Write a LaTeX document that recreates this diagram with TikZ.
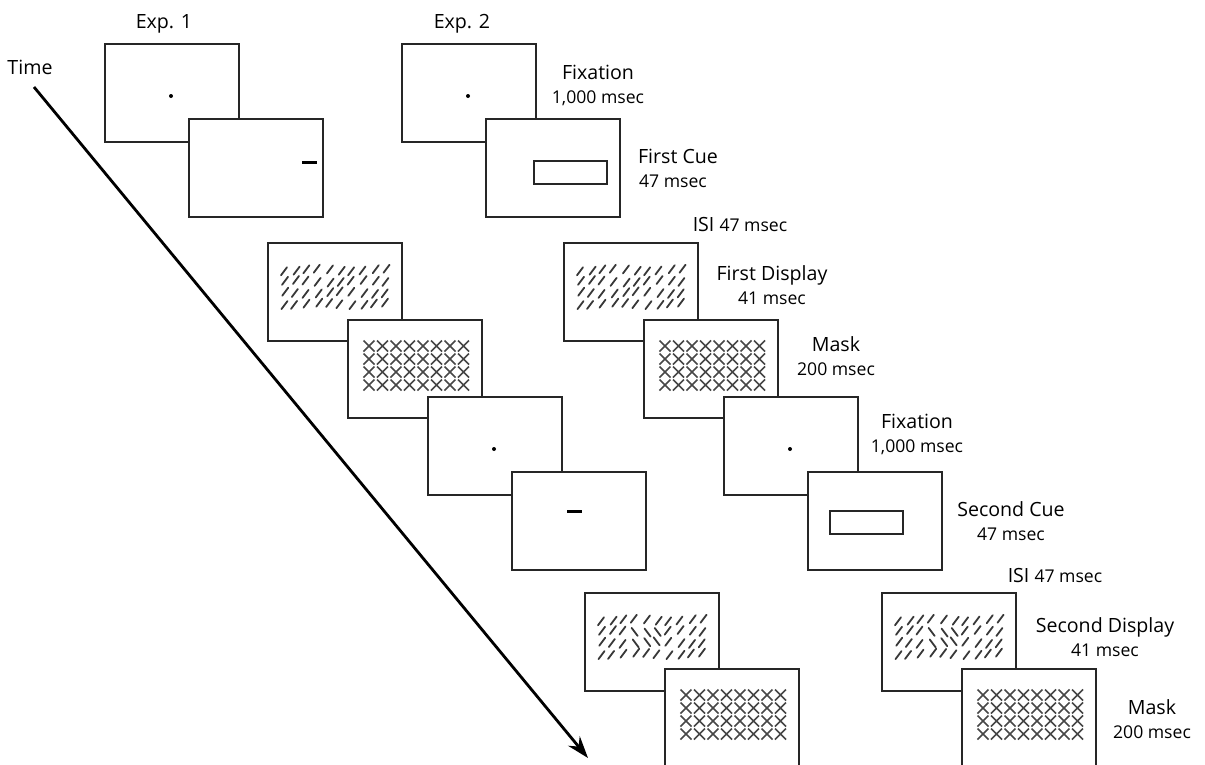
\documentclass[tikz,border=0pt]{standalone}
\usepackage{fontspec}
\setmainfont{Open Sans}
\usetikzlibrary{arrows.meta,positioning}

\newcommand{\stagefont}{\fontsize{19.6}{22}\selectfont}
\newcommand{\durfont}{\fontsize{17.6}{20}\selectfont}

\tikzset{
	pics/linegrid/.style={code={
		\foreach \j in {0,...,3}
		\foreach \i in {0,...,9}{
			\pgfmathsetmacro{\px}{-51+11.33*\i+1.3*sin(97*\i+53*\j)}
			\pgfmathsetmacro{\py}{-22+11.3*\j+1.3*cos(61*\i+113*\j)}
			\pgfmathsetmacro{\dy}{(#1==1 && \j>0 && \j<3 && \i>2 && \i<6) ? -4 : 4}
			\draw[texline] (\px-3,\py+\dy) -- (\px+3,\py-\dy);
		}
	}},
	pics/xgrid/.style={code={
		\foreach \j in {0,...,3}
		\foreach \i in {0,...,7}{
			\pgfmathsetmacro{\px}{-46+13.5*\i}
			\pgfmathsetmacro{\py}{-23+13*\j}
			\draw[maskx] (\px-5.5,\py-5.5) -- (\px+5.5,\py+5.5) (\px-5.5,\py+5.5) -- (\px+5.5,\py-5.5);
		}
	}}
}

\begin{document}
\begin{tikzpicture}[x=1pt,y=-1pt,
	screen/.style={rectangle,draw=black!85,line width=2pt,fill=white,minimum width=134pt,minimum height=98pt,inner sep=0pt,outer sep=0pt},
	stage/.style={font=\stagefont,inner sep=0pt,anchor=base},
	dur/.style={font=\durfont,inner sep=0pt,anchor=base},
	fixdot/.style={circle,fill=black,inner sep=0pt,minimum size=4pt},
	cuebar/.style={rectangle,fill=black,inner sep=0pt,minimum width=15pt,minimum height=3pt},
	cuebox/.style={rectangle,draw=black!85,line width=2pt,inner sep=0pt,minimum width=73pt,minimum height=23pt},
	texline/.style={draw=black!78,line width=1.8pt,line cap=round},
	maskx/.style={draw=black!72,line width=1.6pt},
	timeline/.style={-{Stealth[length=22pt,width=15pt]},line width=2.8pt}
	]
\useasboundingbox (0,0) rectangle (1205,764);

% headings
\node [stage] (exp1) at (164,28) {Exp. 1};
\node [stage] (exp2) at (462,28) {Exp. 2};
\node [stage] (time) at (30,74)  {Time};

% Exp. 1 : fixation and cue
\node [screen] (a1) at (172,93) {};
\node [fixdot] (a1dot) at ([shift={(-1,3)}]a1.center) {};
\node [screen] (a2) [below right=-23pt and -50pt of a1] {};
\node [cuebar] (a2cue) at ([shift={(53,-6)}]a2.center) {};

% Exp. 2 : fixation and cue
\node [screen] (b1) at (469,93) {};
\node [fixdot] (b1dot) at ([shift={(-1,3)}]b1.center) {};
\node [screen] (b2) [below right=-23pt and -50pt of b1] {};
\node [cuebox] (b2cue) at ([shift={(17,4)}]b2.center) {};

% Exp. 1 : first display, mask, fixation, second cue
\node [screen] (c1) at (335,292) {};
\pic at (c1.center) {linegrid=0};
\node [screen] (c2) [below right=-21pt and -54pt of c1] {};
\pic at (c2.center) {xgrid};
\node [screen] (c3) [below right=-21pt and -54pt of c2] {};
\node [fixdot] (c3dot) at ([shift={(-1,3)}]c3.center) {};
\node [screen] (c4) [below right=-23pt and -50pt of c3] {};
\node [cuebar] (c4cue) at ([shift={(-5,-10)}]c4.center) {};

% Exp. 2 : first display, mask, fixation, second cue
\node [screen] (d1) at (631,292) {};
\pic at (d1.center) {linegrid=0};
\node [screen] (d2) [below right=-21pt and -54pt of d1] {};
\pic at (d2.center) {xgrid};
\node [screen] (d3) [below right=-21pt and -54pt of d2] {};
\node [fixdot] (d3dot) at ([shift={(-1,3)}]d3.center) {};
\node [screen] (d4) [below right=-23pt and -50pt of d3] {};
\node [cuebox] (d4cue) at ([shift={(-9,1)}]d4.center) {};

% second display and mask
\node [screen] (e1) at (652,642) {};
\pic at (e1.center) {linegrid=1};
\node [screen] (e2) [below right=-22pt and -54pt of e1] {};
\pic at (e2.center) {xgrid};

\node [screen] (f1) at (949,642) {};
\pic at (f1.center) {linegrid=1};
\node [screen] (f2) [below right=-22pt and -54pt of f1] {};
\pic at (f2.center) {xgrid};

% stage labels
\node [stage] (fix1)  at (598,79)  {Fixation};
\node [dur]   (fix1t) at ([yshift=-24pt]fix1.base) {1,000 msec};
\node [stage] (cue1)  at (678,163) {First Cue};
\node [dur]   (cue1t) at ([shift={(-5,24)}]cue1.base) {47 msec};
\node [stage] (isi1)  at (740,231) {ISI {\durfont 47 msec}};
\node [stage] (dis1)  at (772,280) {First Display};
\node [dur]   (dis1t) at ([yshift=-24pt]dis1.base) {41 msec};
\node [stage] (msk1)  at (836,351) {Mask};
\node [dur]   (msk1t) at ([yshift=-24pt]msk1.base) {200 msec};
\node [stage] (fix2)  at (917,428) {Fixation};
\node [dur]   (fix2t) at ([yshift=-24pt]fix2.base) {1,000 msec};
\node [stage] (cue2)  at (1011,516) {Second Cue};
\node [dur]   (cue2t) at ([yshift=-24pt]cue2.base) {47 msec};
\node [stage] (isi2)  at (1055,582) {ISI {\durfont 47 msec}};
\node [stage] (dis2)  at (1105,632) {Second Display};
\node [dur]   (dis2t) at ([yshift=-24pt]dis2.base) {41 msec};
\node [stage] (msk2)  at (1152,714) {Mask};
\node [dur]   (msk2t) at ([yshift=-24pt]msk2.base) {200 msec};

% time axis
\coordinate (tstart) at (34,87);
\coordinate (tend) at (588,758);
\draw [timeline] (tstart) -- (tend);
\end{tikzpicture}
\end{document}
